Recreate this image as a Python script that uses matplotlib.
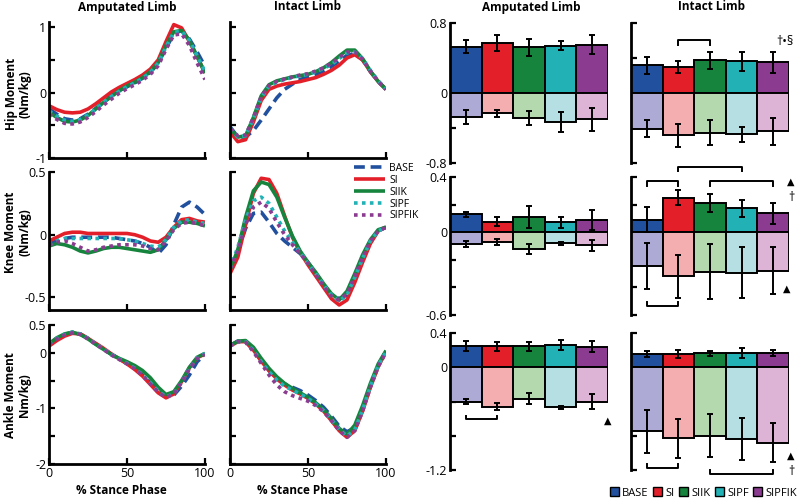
import numpy as np
import matplotlib
matplotlib.use('Agg')
import matplotlib.pyplot as plt
from matplotlib.patches import Patch
from matplotlib.lines import Line2D

plt.rcParams['font.family'] = ['Open Sans', 'DejaVu Sans']

conds = ['BASE', 'SI', 'SIIK', 'SIPF', 'SIPFIK']
dark = ['#21509e', '#e3202a', '#17843e', '#22b2b6', '#8b3c90']
light = ['#adaad6', '#f4aeb0', '#b4d9ae', '#b6dfe4', '#ddb3d6']

stance = [0, 5, 10, 15, 20, 25, 30, 35, 40, 45, 50, 55, 60, 65, 70, 75, 80, 85, 90, 95, 100]

# joint moment curves (Nm/kg), one list per condition
hip_amp = {
    'BASE':   [-0.25, -0.33, -0.40, -0.42, -0.40, -0.33, -0.24, -0.14, -0.05, 0.03, 0.09, 0.15, 0.22, 0.31, 0.45, 0.68, 0.90, 0.95, 0.82, 0.62, 0.40],
    'SI':     [-0.20, -0.26, -0.30, -0.31, -0.30, -0.25, -0.17, -0.08, 0.01, 0.08, 0.14, 0.20, 0.27, 0.36, 0.50, 0.78, 1.04, 0.99, 0.78, 0.55, 0.30],
    'SIIK':   [-0.30, -0.38, -0.44, -0.45, -0.42, -0.35, -0.25, -0.15, -0.06, 0.03, 0.10, 0.16, 0.23, 0.32, 0.46, 0.72, 0.93, 0.95, 0.80, 0.55, 0.30],
    'SIPF':   [-0.28, -0.36, -0.42, -0.44, -0.41, -0.34, -0.25, -0.15, -0.06, 0.02, 0.09, 0.15, 0.22, 0.31, 0.45, 0.70, 0.92, 0.94, 0.80, 0.56, 0.32],
    'SIPFIK': [-0.33, -0.41, -0.47, -0.48, -0.45, -0.38, -0.29, -0.19, -0.10, -0.01, 0.06, 0.12, 0.19, 0.28, 0.41, 0.66, 0.88, 0.90, 0.72, 0.45, 0.20],
}
hip_int = {
    'BASE':   [-0.52, -0.68, -0.68, -0.58, -0.42, -0.25, -0.08, 0.05, 0.13, 0.20, 0.24, 0.28, 0.33, 0.40, 0.48, 0.57, 0.60, 0.50, 0.32, 0.17, 0.05],
    'SI':     [-0.60, -0.75, -0.72, -0.45, -0.12, 0.05, 0.10, 0.13, 0.15, 0.17, 0.20, 0.23, 0.28, 0.34, 0.42, 0.53, 0.58, 0.50, 0.32, 0.17, 0.05],
    'SIIK':   [-0.55, -0.68, -0.66, -0.38, -0.05, 0.12, 0.18, 0.21, 0.24, 0.26, 0.28, 0.32, 0.38, 0.46, 0.56, 0.65, 0.65, 0.52, 0.33, 0.17, 0.05],
    'SIPF':   [-0.55, -0.68, -0.66, -0.40, -0.08, 0.10, 0.16, 0.20, 0.23, 0.26, 0.28, 0.32, 0.37, 0.43, 0.52, 0.61, 0.62, 0.52, 0.34, 0.18, 0.06],
    'SIPFIK': [-0.55, -0.66, -0.65, -0.38, -0.06, 0.11, 0.17, 0.21, 0.24, 0.27, 0.29, 0.33, 0.38, 0.45, 0.54, 0.62, 0.62, 0.51, 0.33, 0.17, 0.05],
}
knee_amp = {
    'BASE':   [-0.07, -0.05, -0.03, -0.02, -0.02, -0.02, -0.02, -0.02, -0.02, -0.03, -0.04, -0.05, -0.07, -0.10, -0.15, -0.08, 0.08, 0.22, 0.26, 0.22, 0.16],
    'SI':     [-0.05, -0.02, 0.01, 0.02, 0.02, 0.01, 0.01, 0.01, 0.01, 0.01, 0.01, 0.00, -0.02, -0.05, -0.06, -0.02, 0.06, 0.12, 0.13, 0.11, 0.10],
    'SIIK':   [-0.09, -0.07, -0.08, -0.10, -0.13, -0.145, -0.13, -0.11, -0.10, -0.10, -0.11, -0.12, -0.13, -0.14, -0.12, -0.04, 0.05, 0.10, 0.10, 0.09, 0.07],
    'SIPF':   [-0.08, -0.05, -0.03, -0.03, -0.03, -0.03, -0.03, -0.03, -0.03, -0.03, -0.04, -0.05, -0.07, -0.09, -0.10, -0.04, 0.06, 0.11, 0.12, 0.10, 0.09],
    'SIPFIK': [-0.08, -0.06, -0.05, -0.07, -0.10, -0.13, -0.12, -0.10, -0.09, -0.08, -0.08, -0.08, -0.09, -0.11, -0.12, -0.05, 0.04, 0.09, 0.10, 0.09, 0.07],
}
knee_int = {
    'BASE':   [-0.26, -0.13, 0.05, 0.17, 0.18, 0.10, 0.01, -0.05, -0.10, -0.15, -0.22, -0.31, -0.40, -0.48, -0.51, -0.48, -0.35, -0.20, -0.06, 0.03, 0.06],
    'SI':     [-0.31, -0.18, 0.08, 0.33, 0.45, 0.44, 0.33, 0.15, -0.02, -0.14, -0.24, -0.33, -0.42, -0.51, -0.56, -0.52, -0.38, -0.22, -0.07, 0.03, 0.06],
    'SIIK':   [-0.28, -0.12, 0.14, 0.35, 0.42, 0.40, 0.30, 0.14, -0.01, -0.13, -0.22, -0.30, -0.39, -0.47, -0.52, -0.45, -0.31, -0.16, -0.04, 0.04, 0.06],
    'SIPF':   [-0.27, -0.10, 0.12, 0.27, 0.30, 0.25, 0.14, 0.03, -0.06, -0.14, -0.23, -0.31, -0.40, -0.48, -0.53, -0.48, -0.34, -0.19, -0.05, 0.03, 0.06],
    'SIPFIK': [-0.27, -0.13, 0.08, 0.22, 0.26, 0.21, 0.10, 0.00, -0.08, -0.15, -0.23, -0.32, -0.41, -0.49, -0.52, -0.47, -0.33, -0.18, -0.05, 0.03, 0.06],
}
ankle_amp = {
    'BASE':   [0.16, 0.26, 0.33, 0.37, 0.34, 0.26, 0.16, 0.07, -0.03, -0.11, -0.19, -0.28, -0.40, -0.54, -0.69, -0.79, -0.76, -0.60, -0.40, -0.16, -0.03],
    'SI':     [0.12, 0.22, 0.30, 0.35, 0.34, 0.26, 0.17, 0.08, -0.02, -0.11, -0.20, -0.30, -0.42, -0.57, -0.72, -0.81, -0.74, -0.52, -0.27, -0.09, -0.02],
    'SIIK':   [0.16, 0.27, 0.34, 0.37, 0.33, 0.25, 0.15, 0.06, -0.03, -0.10, -0.16, -0.23, -0.32, -0.45, -0.62, -0.75, -0.70, -0.50, -0.26, -0.08, -0.01],
    'SIPF':   [0.16, 0.26, 0.33, 0.37, 0.34, 0.26, 0.16, 0.07, -0.03, -0.11, -0.19, -0.28, -0.40, -0.54, -0.69, -0.79, -0.74, -0.53, -0.28, -0.09, -0.01],
    'SIPFIK': [0.15, 0.25, 0.32, 0.36, 0.33, 0.25, 0.15, 0.06, -0.04, -0.12, -0.20, -0.29, -0.41, -0.56, -0.71, -0.80, -0.74, -0.53, -0.29, -0.10, -0.03],
}
ankle_int = {
    'BASE':   [0.13, 0.21, 0.20, 0.05, -0.14, -0.32, -0.46, -0.56, -0.62, -0.68, -0.76, -0.86, -0.98, -1.14, -1.32, -1.42, -1.35, -1.02, -0.60, -0.23, 0.03],
    'SI':     [0.12, 0.20, 0.20, 0.05, -0.15, -0.32, -0.47, -0.58, -0.67, -0.74, -0.82, -0.92, -1.05, -1.22, -1.40, -1.52, -1.40, -1.05, -0.62, -0.25, 0.02],
    'SIIK':   [0.13, 0.21, 0.22, 0.10, -0.10, -0.28, -0.43, -0.55, -0.64, -0.72, -0.80, -0.90, -1.02, -1.18, -1.36, -1.47, -1.30, -0.95, -0.55, -0.20, 0.04],
    'SIPF':   [0.12, 0.20, 0.20, 0.04, -0.16, -0.34, -0.49, -0.60, -0.67, -0.74, -0.82, -0.92, -1.04, -1.20, -1.38, -1.50, -1.38, -1.03, -0.60, -0.23, 0.02],
    'SIPFIK': [0.12, 0.20, 0.19, 0.02, -0.19, -0.40, -0.58, -0.70, -0.77, -0.82, -0.87, -0.95, -1.06, -1.22, -1.40, -1.52, -1.40, -1.05, -0.62, -0.25, 0.01],
}

# peak positive / negative moments, mean and error
hip_amp_pos = [0.53, 0.57, 0.52, 0.54, 0.55]
hip_amp_pos_err = [0.07, 0.09, 0.10, 0.05, 0.11]
hip_amp_neg = [-0.27, -0.23, -0.29, -0.33, -0.30]
hip_amp_neg_err = [0.08, 0.04, 0.08, 0.11, 0.13]

hip_int_pos = [0.315, 0.296, 0.373, 0.36, 0.35]
hip_int_pos_err = [0.096, 0.065, 0.098, 0.11, 0.123]
hip_int_neg = [-0.41, -0.485, -0.454, -0.473, -0.435]
hip_int_neg_err = [0.098, 0.135, 0.144, 0.09, 0.154]

knee_amp_pos = [0.13, 0.077, 0.108, 0.072, 0.089]
knee_amp_pos_err = [0.02, 0.035, 0.08, 0.04, 0.07]
knee_amp_neg = [-0.086, -0.07, -0.122, -0.08, -0.093]
knee_amp_neg_err = [0.024, 0.02, 0.035, 0.01, 0.04]

knee_int_pos = [0.091, 0.25, 0.215, 0.173, 0.136]
knee_int_pos_err = [0.09, 0.055, 0.065, 0.062, 0.078]
knee_int_neg = [-0.242, -0.32, -0.286, -0.294, -0.279]
knee_int_neg_err = [0.167, 0.157, 0.20, 0.185, 0.17]

ankle_amp_pos = [0.25, 0.245, 0.245, 0.26, 0.24]
ankle_amp_pos_err = [0.055, 0.05, 0.05, 0.06, 0.065]
ankle_amp_neg = [-0.40, -0.46, -0.37, -0.47, -0.40]
ankle_amp_neg_err = [0.03, 0.045, 0.065, 0.02, 0.085]

ankle_int_pos = [0.155, 0.155, 0.165, 0.165, 0.165]
ankle_int_pos_err = [0.03, 0.045, 0.03, 0.06, 0.035]
ankle_int_neg = [-0.75, -0.83, -0.80, -0.84, -0.88]
ankle_int_neg_err = [0.25, 0.23, 0.25, 0.245, 0.23]

styles = {
    'BASE': dict(ls=(0, (3, 1.6)), lw=2.6),
    'SI': dict(ls='-', lw=2.6),
    'SIIK': dict(ls='-', lw=2.6),
    'SIPF': dict(ls=(0, (1, 1.2)), lw=2.6),
    'SIPFIK': dict(ls=(0, (1, 1.2)), lw=2.6),
}


def px(x0, y0, x1, y1):
    return [x0 / 800, 1 - y1 / 500, (x1 - x0) / 800, (y1 - y0) / 500]


def line_panel(ax, curves, ylim, yticks, ylabels, xlabels):
    for c, col in zip(conds, dark):
        ax.plot(stance, curves[c], color=col, solid_capstyle='butt', **styles[c])
    ax.set_xlim(0, 100)
    ax.set_ylim(ylim)
    ax.set_xticks([0, 50, 100])
    ax.set_yticks(yticks)
    ax.set_yticklabels(ylabels)
    if xlabels:
        ax.set_xticklabels(['0', '50', '100'])
    else:
        ax.set_xticklabels([])
    for s in ['top', 'right']:
        ax.spines[s].set_visible(False)
    for s in ['left', 'bottom']:
        ax.spines[s].set_linewidth(2)
    ax.tick_params(direction='in', length=4, width=1.6, labelsize=9, pad=2)


def bar_panel(ax, pos, pos_err, neg, neg_err, ylim, yticks, ylabels):
    x = np.arange(len(conds))
    ax.bar(x, pos, width=1, color=dark, edgecolor='black', linewidth=1.4, zorder=2)
    ax.bar(x, neg, width=1, color=light, edgecolor='black', linewidth=1.4, zorder=2)
    ax.errorbar(x, pos, yerr=pos_err, fmt='none', ecolor='black', elinewidth=1.4,
                capsize=2.5, capthick=1.4, zorder=3)
    ax.errorbar(x, neg, yerr=neg_err, fmt='none', ecolor='black', elinewidth=1.4,
                capsize=2.5, capthick=1.4, zorder=3)
    ax.set_xlim(-0.5, 4.5)
    ax.set_ylim(ylim)
    ax.set_xticks([])
    ax.set_yticks(yticks)
    ax.set_yticklabels(ylabels)
    for s in ['top', 'right', 'bottom']:
        ax.spines[s].set_visible(False)
    ax.spines['left'].set_linewidth(2)
    ax.tick_params(axis='y', direction='in', length=4, width=1.6, labelsize=9, pad=2)


def bracket(ax, x0, x1, y, h):
    ax.plot([x0, x0, x1, x1], [y - h, y, y, y - h], color='black', lw=1.4,
            clip_on=False, zorder=4)


fig = plt.figure(figsize=(8, 5), dpi=100)

# line plots
ax = fig.add_axes(px(49, 22, 205, 158))
line_panel(ax, hip_amp, (-1, 1.08), [-1, -0.5, 0, 0.5, 1], ['-1', '', '0', '', '1'], False)
ax = fig.add_axes(px(230, 22, 386, 158))
line_panel(ax, hip_int, (-1, 1.08), [-1, -0.5, 0, 0.5, 1], [], False)
ax = fig.add_axes(px(49, 172, 205, 310))
line_panel(ax, knee_amp, (-0.6, 0.5), [-0.5, 0, 0.5], ['-0.5', '0', '0.5'], False)
ax_knee_int = fig.add_axes(px(230, 172, 386, 310))
line_panel(ax_knee_int, knee_int, (-0.6, 0.5), [-0.5, 0, 0.5], [], False)
ax = fig.add_axes(px(49, 325, 205, 464))
line_panel(ax, ankle_amp, (-2, 0.5), [-2, -1.5, -1, -0.5, 0, 0.5],
           ['-2', '', '-1', '', '0', '0.5'], True)
ax = fig.add_axes(px(230, 325, 386, 464))
line_panel(ax, ankle_int, (-2, 0.5), [-2, -1.5, -1, -0.5, 0, 0.5], [], True)

# bar plots
ax = fig.add_axes(px(450, 23, 608, 163))
bar_panel(ax, hip_amp_pos, hip_amp_pos_err, hip_amp_neg, hip_amp_neg_err,
          (-0.8, 0.8), [-0.8, -0.4, 0, 0.4, 0.8], ['-0.8', '', '0', '', '0.8'])
ax = fig.add_axes(px(631, 23, 789, 163))
bar_panel(ax, hip_int_pos, hip_int_pos_err, hip_int_neg, hip_int_neg_err,
          (-0.8, 0.8), [-0.8, -0.4, 0, 0.4, 0.8], [])
bracket(ax, 1, 2, 0.60, 0.05)
ax.text(4.1, 0.585, '†•§', fontsize=9, ha='left', va='center', clip_on=False)

ax = fig.add_axes(px(450, 177, 608, 315))
bar_panel(ax, knee_amp_pos, knee_amp_pos_err, knee_amp_neg, knee_amp_neg_err,
          (-0.6, 0.4), [-0.6, -0.4, -0.2, 0, 0.2, 0.4], ['-0.6', '', '', '0', '', '0.4'])
ax = fig.add_axes(px(631, 177, 789, 315))
bar_panel(ax, knee_int_pos, knee_int_pos_err, knee_int_neg, knee_int_neg_err,
          (-0.6, 0.4), [-0.6, -0.4, -0.2, 0, 0.2, 0.4], [])
bracket(ax, 0, 1, 0.368, 0.03)
bracket(ax, 1, 3, 0.474, 0.03)
bracket(ax, 2, 4, 0.368, 0.03)
bracket(ax, 0, 1, -0.538, -0.03)
ax.text(4.56, 0.363, '▲', fontsize=7, ha='center', va='center', clip_on=False)
ax.text(4.56, 0.25, '†', fontsize=9, ha='center', va='center', clip_on=False)
ax.text(4.44, -0.415, '▲', fontsize=7, ha='center', va='center', clip_on=False)

ax = fig.add_axes(px(450, 333, 608, 470))
bar_panel(ax, ankle_amp_pos, ankle_amp_pos_err, ankle_amp_neg, ankle_amp_neg_err,
          (-1.2, 0.4), [-1.2, -0.8, -0.4, 0, 0.4], ['-1.2', '', '', '0', '0.4'])
bracket(ax, 0, 1, -0.607, -0.035)
ax.text(4.5, -0.63, '▲', fontsize=7, ha='center', va='center', clip_on=False)
ax = fig.add_axes(px(631, 333, 789, 470))
bar_panel(ax, ankle_int_pos, ankle_int_pos_err, ankle_int_neg, ankle_int_neg_err,
          (-1.2, 0.4), [-1.2, -0.8, -0.4, 0, 0.4], [])
bracket(ax, 0, 1, -1.18, -0.05)
bracket(ax, 2, 4, -1.245, -0.045)
ax.text(4.56, -1.04, '▲', fontsize=7, ha='center', va='center', clip_on=False)
ax.text(4.56, -1.22, '†', fontsize=9, ha='center', va='center', clip_on=False)

# titles and labels
for xc, t in [(127, 'Amputated Limb'), (307, 'Intact Limb'), (531, 'Amputated Limb'), (712, 'Intact Limb')]:
    fig.text(xc / 800, 1 - 7 / 500, t, fontsize=8.5, fontweight='bold', ha='center', va='center')
for xc in [121, 302]:
    fig.text(xc / 800, 1 - 490 / 500, '% Stance Phase', fontsize=8.5, fontweight='bold',
             ha='center', va='center')
for yc, t in [(94, 'Hip Moment\n(Nm/kg)'), (232, 'Knee Moment\n(Nm/kg)'), (395, 'Ankle Moment\nNm/kg)')]:
    fig.text(18 / 800, 1 - yc / 500, t, fontsize=8.5, fontweight='bold', rotation=90,
             ha='center', va='center', multialignment='center', linespacing=1.1)

# legends
line_handles = [Line2D([0], [0], color=col, solid_capstyle='butt', **styles[c])
                for c, col in zip(conds, dark)]
fig.legend(line_handles, conds, loc='upper left', bbox_to_anchor=(354 / 800, 1 - 163 / 500),
           frameon=False, fontsize=7.5, handlelength=3.0, labelspacing=0.08,
           handletextpad=0.4, borderpad=0, borderaxespad=0)

bar_handles = [Patch(facecolor=col, edgecolor='black', linewidth=1) for col in dark]
fig.legend(bar_handles, conds, loc='center right', bbox_to_anchor=(797 / 800, 1 - 493 / 500),
           frameon=False, fontsize=8, ncol=5, handlelength=0.8, handleheight=0.8,
           handletextpad=0.3, columnspacing=0.4, borderpad=0, borderaxespad=0)

fig.savefig('out.png', dpi=100)
